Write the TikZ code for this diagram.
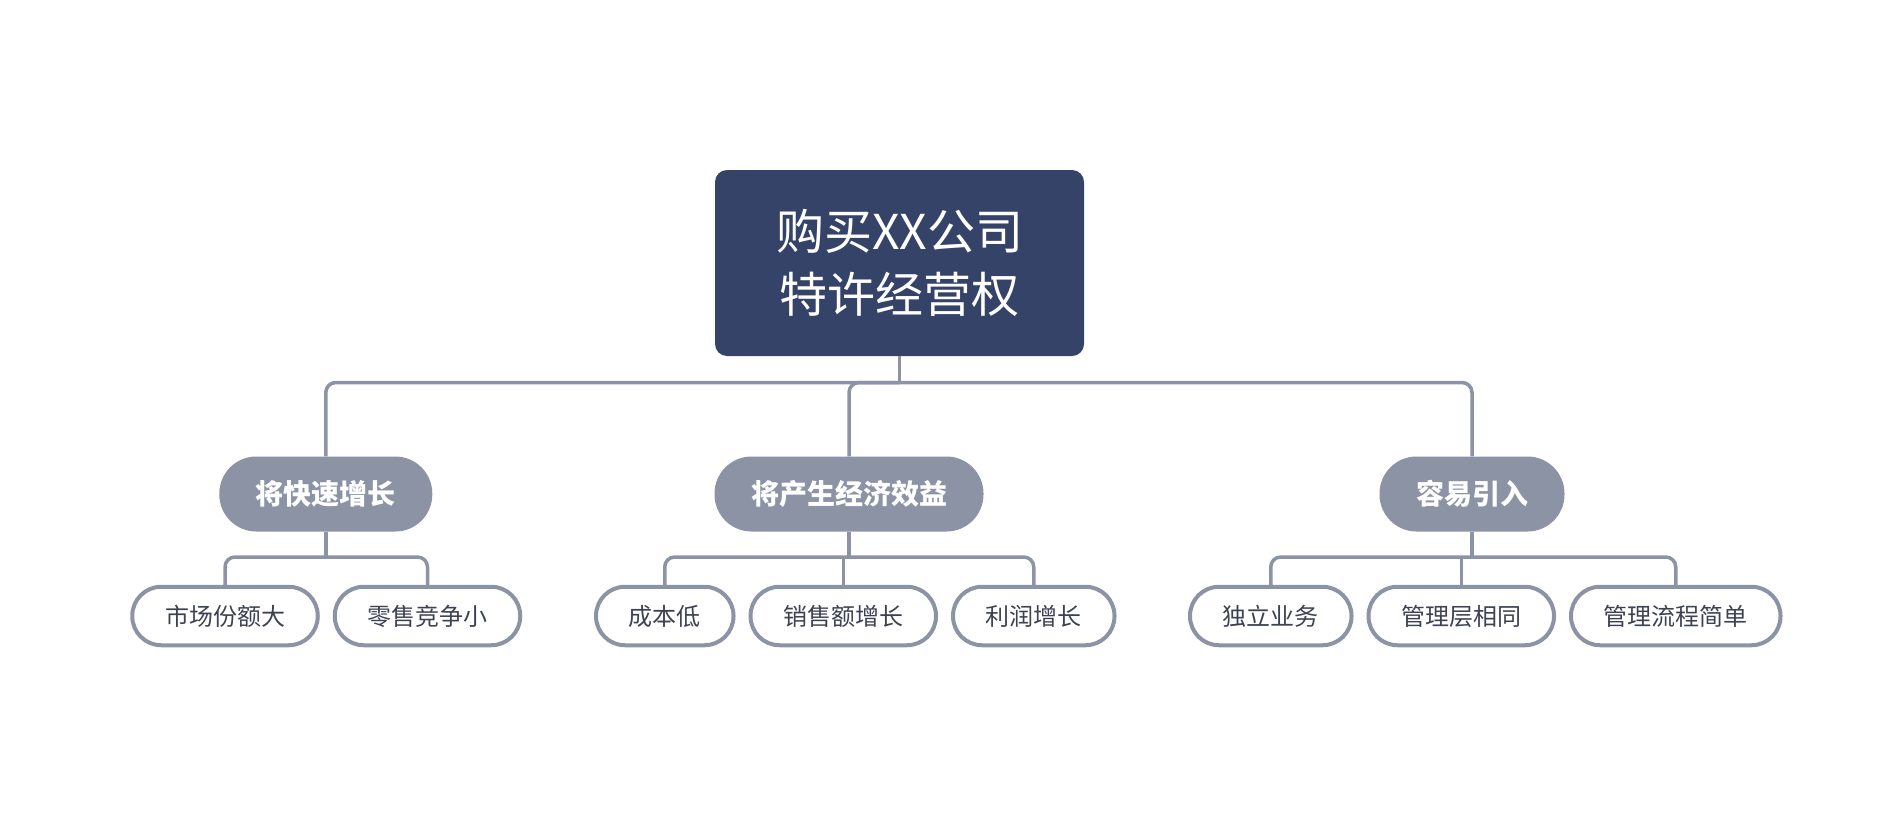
\documentclass[tikz,border=0pt]{standalone}
\usepackage{fontspec}
\setmainfont{Noto Sans CJK SC}
\usetikzlibrary{positioning,calc}

\definecolor{rootblue}{HTML}{354369}
\definecolor{linegray}{HTML}{8B93A5}
\definecolor{leaftext}{HTML}{3C4254}

\begin{document}
\begin{tikzpicture}[
    x=1pt, y=1pt,
    node distance=13pt,
    root/.style={rectangle, fill=rootblue, rounded corners=12pt, minimum width=369pt, minimum height=186pt, align=center, text=white, font=\fontsize{48}{63}\selectfont},
    topic/.style={rectangle, fill=linegray, rounded corners=37pt, minimum height=75pt, inner xsep=36.5pt, text=white, font=\fontsize{28}{32}\selectfont\bfseries},
    leaf/.style={rectangle, draw=linegray, line width=4pt, fill=white, rounded corners=29pt, minimum height=58.5pt, inner xsep=32.75pt, text=leaftext, font=\fontsize{24}{28}\selectfont},
    link/.style={draw=linegray, line width=3.5pt},
    elbow/.style={link, rounded corners=10pt}
]

\useasboundingbox (0,0) rectangle (1878,-822);

\node[root] (root) at (899.5,-263) {购买XX公司\\特许经营权};

\node[topic] (t1) at (325.8,-494) {将快速增长};
\node[topic] (t2) at (849,-494) {将产生经济效益};
\node[topic] (t3) at (1472,-494) {容易引入};

\node[leaf] (l11) at (225,-616) {市场份额大};
\node[leaf, right=of l11] (l12) {零售竞争小};
\node[leaf] (l21) at (664.75,-616) {成本低};
\node[leaf, right=of l21] (l22) {销售额增长};
\node[leaf, right=of l22] (l23) {利润增长};
\node[leaf] (l31) at (1270.75,-616) {独立业务};
\node[leaf, right=of l31] (l32) {管理层相同};
\node[leaf, right=of l32] (l33) {管理流程简单};

\coordinate (j0) at (root.south |- 0,-382.5);
\coordinate (j1) at (t1.south |- 0,-557);
\coordinate (j2) at (t2.south |- 0,-557);
\coordinate (j3) at (t3.south |- 0,-557);

\draw[link] (root) -- (j0);
\draw[elbow] (t1) |- (j0) -| (t3);
\draw[elbow] (j0) -| (t2);

\draw[link] (t1) -- (j1);
\draw[elbow] (l11) |- (j1) -| (l12);

\draw[link] (t2) -- (j2);
\draw[elbow] (l21) |- (j2) -| (l23);
\draw[link] (l22) -- (l22 |- j2);

\draw[link] (t3) -- (j3);
\draw[elbow] (l31) |- (j3) -| (l33);
\draw[link] (l32) -- (l32 |- j3);

\end{tikzpicture}
\end{document}
